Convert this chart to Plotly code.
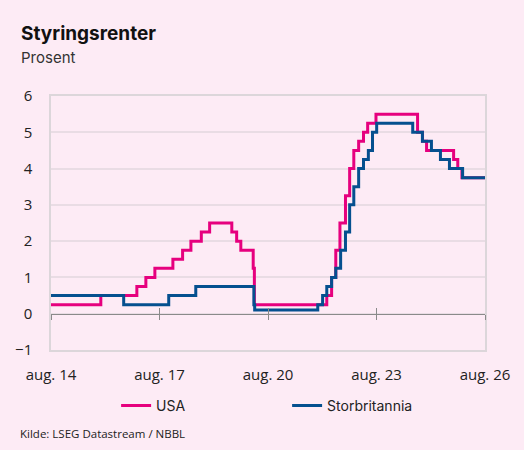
import plotly.graph_objects as go

# ---- data ----
us_dates = ["2014-08-01", "2015-12-17", "2016-12-15", "2017-03-16", "2017-06-15", "2017-12-14",
            "2018-03-22", "2018-06-14", "2018-09-27", "2018-12-20", "2019-08-01", "2019-09-19",
            "2019-10-31", "2020-03-04", "2020-03-16", "2022-03-17", "2022-05-05", "2022-06-16",
            "2022-07-28", "2022-09-22", "2022-11-03", "2022-12-15", "2023-02-02", "2023-03-23",
            "2023-05-04", "2023-07-27", "2024-09-19", "2024-11-08", "2024-12-19", "2025-09-18",
            "2025-10-30", "2025-12-11", "2026-08-01"]
us_rates = [0.25, 0.50, 0.75, 1.00, 1.25, 1.50,
            1.75, 2.00, 2.25, 2.50, 2.25, 2.00,
            1.75, 1.25, 0.25, 0.50, 1.00, 1.75,
            2.50, 3.25, 4.00, 4.50, 4.75, 5.00,
            5.25, 5.50, 5.00, 4.75, 4.50, 4.25,
            4.00, 3.75, 3.75]

uk_dates = ["2014-08-01", "2016-08-04", "2017-11-02", "2018-08-02", "2020-03-11", "2020-03-19",
            "2021-12-16", "2022-02-03", "2022-03-17", "2022-05-05", "2022-06-16", "2022-08-04",
            "2022-09-22", "2022-11-03", "2022-12-15", "2023-02-02", "2023-03-23", "2023-05-11",
            "2023-06-22", "2023-08-03", "2024-08-01", "2024-11-07", "2025-02-06", "2025-05-08",
            "2025-08-07", "2025-12-18", "2026-08-01"]
uk_rates = [0.50, 0.25, 0.50, 0.75, 0.25, 0.10,
            0.25, 0.50, 0.75, 1.00, 1.25, 1.75,
            2.25, 3.00, 3.50, 4.00, 4.25, 4.50,
            5.00, 5.25, 5.00, 4.75, 4.50, 4.25,
            4.00, 3.75, 3.75]

tick_vals = ["2014-08-01", "2017-08-01", "2020-08-01", "2023-08-01", "2026-08-01"]
tick_text = ["aug. 14", "aug. 17", "aug. 20", "aug. 23", "aug. 26"]
x_range = ["2014-08-01", "2026-08-01"]
y_range = [-1, 6]

title = "Styringsrenter"
subtitle = "Prosent"
source = "Kilde: LSEG Datastream / NBBL"

PINK = "#E6007E"
BLUE = "#05508F"
BG = "#FDEBF5"
GRID = "#E9DCE4"

fig = go.Figure()
fig.add_trace(go.Scatter(x=us_dates, y=us_rates, mode="lines", name="USA",
                         line=dict(color=PINK, width=3, shape="hv")))
fig.add_trace(go.Scatter(x=uk_dates, y=uk_rates, mode="lines", name="Storbritannia",
                         line=dict(color=BLUE, width=3, shape="hv")))

zero_pos = (0 - y_range[0]) / (y_range[1] - y_range[0])

fig.update_layout(
    width=524, height=450,
    paper_bgcolor=BG, plot_bgcolor=BG,
    margin=dict(l=51, r=39, t=96, b=100, autoexpand=False),
    font=dict(family="Open Sans", size=14, color="#222222"),
    showlegend=True,
    legend=dict(orientation="h", x=0.15, xanchor="left", y=-0.22, yanchor="middle",
                entrywidth=126, entrywidthmode="pixels",
                font=dict(family="Inter", size=14, color="#222222"),
                bgcolor="rgba(0,0,0,0)"),
    xaxis=dict(type="date", range=x_range, tickvals=tick_vals, ticktext=tick_text,
               showgrid=False, zeroline=False, showline=True, mirror=True,
               linecolor="#DCD6DA", linewidth=1.5, ticks="", ticklabelstandoff=10,
               automargin=False,
               tickfont=dict(family="Open Sans", size=15, color="#222222")),
    xaxis2=dict(type="date", range=x_range, tickvals=tick_vals, overlaying="x",
                anchor="free", position=zero_pos, side="bottom",
                showgrid=False, zeroline=False, showline=True, linecolor="#8A8A8A",
                linewidth=1, ticks="outside", ticklen=5, tickcolor="#8A8A8A",
                showticklabels=False, automargin=False),
    xaxis3=dict(type="date", range=x_range, tickvals=tick_vals, overlaying="x",
                anchor="free", position=zero_pos, side="bottom",
                showgrid=False, zeroline=False, showline=False,
                ticks="inside", ticklen=6, tickcolor="#8A8A8A",
                showticklabels=False, automargin=False),
    yaxis=dict(range=y_range, dtick=1, showgrid=True, gridcolor=GRID, gridwidth=1.5,
               zeroline=False, showline=True, mirror=True, linecolor="#DCD6DA",
               linewidth=1.5, ticks="", ticklabelstandoff=14, automargin=False,
               tickfont=dict(family="Open Sans", size=15, color="#222222")),
)

# invisible traces to instantiate the overlay axes
fig.add_trace(go.Scatter(x=x_range, y=[None, None], xaxis="x2", showlegend=False, hoverinfo="skip"))
fig.add_trace(go.Scatter(x=x_range, y=[None, None], xaxis="x3", showlegend=False, hoverinfo="skip"))

fig.add_annotation(text="<b>" + title + "</b>", xref="paper", yref="paper",
                   x=-32 / 434, y=1.248, xanchor="left", yanchor="middle", showarrow=False,
                   font=dict(family="Inter", size=19, color="#111111"))
fig.add_annotation(text=subtitle, xref="paper", yref="paper",
                   x=-32 / 434, y=1.15, xanchor="left", yanchor="middle", showarrow=False,
                   font=dict(family="Inter", size=15, color="#333333"))
fig.add_annotation(text=source, xref="paper", yref="paper",
                   x=-33 / 434, y=-0.327, xanchor="left", yanchor="middle", showarrow=False,
                   font=dict(family="Open Sans", size=11.5, color="#222222"))

fig.write_html("out.html", config={"displayModeBar": False},
               post_script="document.body.style.margin='0';")
